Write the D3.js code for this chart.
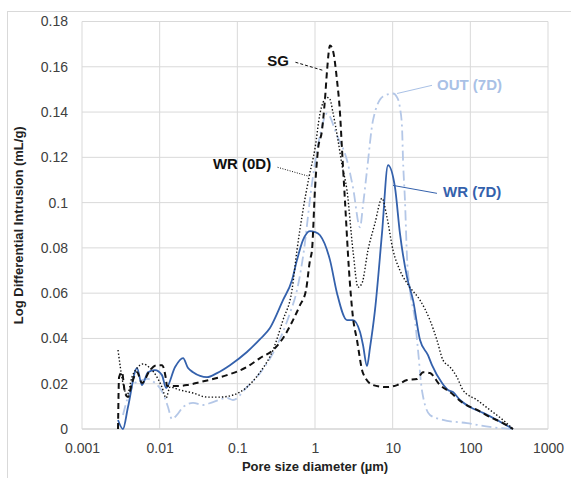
<!DOCTYPE html>
<html>
<head>
<meta charset="utf-8">
<script src="https://cdnjs.cloudflare.com/ajax/libs/d3/7.8.5/d3.min.js"></script>
<style>
  body { margin: 0; background: #fff; }
  text { font-family: "Liberation Sans", Arial, sans-serif; }
</style>
</head>
<body>
<div id="chart"></div>
<script>
// [pore diameter (um), log differential intrusion (mL/g)]
const wr7dData = [
  [0.00291, 0.0040], [0.00337, 0.0], [0.00391, 0.0097], [0.00511, 0.0269], [0.00592, 0.0194],
  [0.00708, 0.0251], [0.00871, 0.0260], [0.0107, 0.0238], [0.0121, 0.0181], [0.0158, 0.0274],
  [0.0200, 0.0313], [0.0232, 0.0269], [0.0269, 0.0251], [0.0407, 0.0229], [0.0547, 0.0247],
  [0.0804, 0.0282], [0.133, 0.0340], [0.196, 0.0397], [0.263, 0.0446], [0.387, 0.0569],
  [0.505, 0.0657], [0.586, 0.0746], [0.700, 0.0834], [0.862, 0.0874], [1.00, 0.0870],
  [1.16, 0.0856], [1.56, 0.0746], [1.92, 0.0600], [2.58, 0.0481], [3.08, 0.0481],
  [3.80, 0.0428], [4.15, 0.0371], [4.67, 0.0278], [5.11, 0.0360], [5.92, 0.0525],
  [7.29, 0.0865], [8.71, 0.1165], [10.7, 0.1068], [12.4, 0.0865], [15.3, 0.0671],
  [18.3, 0.0569], [22.5, 0.0393], [28.5, 0.0326], [32.1, 0.0282], [43.2, 0.0203],
  [51.6, 0.0172], [59.8, 0.0163], [73.6, 0.0128], [98.9, 0.0097], [146, 0.0071],
  [220, 0.0040], [354, 0.0]
];

const out7dData = [
  [0.00337, 0.0062], [0.00380, 0.0128], [0.00481, 0.0203], [0.00592, 0.0216], [0.00708, 0.0221],
  [0.00871, 0.0203], [0.0110, 0.0159], [0.0128, 0.0097], [0.0144, 0.0044], [0.0167, 0.0062],
  [0.0200, 0.0097], [0.0269, 0.0115], [0.0361, 0.0106], [0.0486, 0.0119], [0.0736, 0.0137],
  [0.0879, 0.0128], [0.133, 0.0185], [0.196, 0.0247], [0.288, 0.0335], [0.476, 0.0512],
  [0.586, 0.0613], [0.700, 0.0759], [0.915, 0.1085], [1.16, 0.1297], [1.43, 0.1394],
  [1.92, 0.1297], [2.58, 0.1187], [3.08, 0.1068], [3.80, 0.0891], [4.15, 0.0988],
  [4.67, 0.1142], [5.58, 0.1363], [7.51, 0.1469], [10.1, 0.1482], [11.4, 0.1465],
  [12.4, 0.1420], [13.2, 0.1332], [13.6, 0.1187], [14.4, 0.1010], [15.3, 0.0759],
  [16.7, 0.0613], [19.4, 0.0481], [21.2, 0.0349], [23.8, 0.0172], [30.2, 0.0062],
  [44.5, 0.0040], [90.5, 0.0026], [179, 0.0009], [354, 0.0]
];

const sgData = [
  [0.00291, 0.0], [0.00300, 0.0229], [0.00327, 0.0251], [0.00358, 0.0159], [0.00391, 0.0141],
  [0.00440, 0.0203], [0.00511, 0.0251], [0.00592, 0.0203], [0.00751, 0.0260], [0.00924, 0.0282],
  [0.0107, 0.0282], [0.0121, 0.0216], [0.0124, 0.0190], [0.0136, 0.0190], [0.0167, 0.0190],
  [0.0225, 0.0194], [0.0331, 0.0207], [0.0486, 0.0221], [0.0736, 0.0238], [0.133, 0.0274],
  [0.196, 0.0313], [0.288, 0.0349], [0.387, 0.0401], [0.521, 0.0481], [0.641, 0.0547],
  [0.766, 0.0613], [0.862, 0.0746], [0.915, 0.0790], [1.00, 0.1060], [1.09, 0.1231],
  [1.23, 0.1319], [1.35, 0.1465], [1.43, 0.1584], [1.56, 0.1694], [1.70, 0.1672],
  [1.92, 0.1540], [2.10, 0.1394], [2.23, 0.1231], [2.43, 0.1010], [2.74, 0.0701],
  [3.08, 0.0494], [3.47, 0.0393], [4.15, 0.0247], [5.58, 0.0194], [8.45, 0.0185],
  [11.4, 0.0194], [15.3, 0.0216], [20.6, 0.0221], [24.6, 0.0251], [30.2, 0.0247],
  [40.7, 0.0194], [54.7, 0.0163], [80.4, 0.0115], [122, 0.0084], [179, 0.0053],
  [263, 0.0026], [354, 0.0]
];

const wr0dData = [
  [0.00291, 0.0349], [0.00337, 0.0203], [0.00380, 0.0150], [0.00440, 0.0229], [0.00526, 0.0274],
  [0.00610, 0.0287], [0.00751, 0.0269], [0.00924, 0.0229], [0.0107, 0.0185], [0.0121, 0.0137],
  [0.0136, 0.0185], [0.0183, 0.0172], [0.0269, 0.0159], [0.0407, 0.0141], [0.0598, 0.0141],
  [0.0879, 0.0150], [0.133, 0.0185], [0.196, 0.0251], [0.288, 0.0349], [0.387, 0.0481],
  [0.505, 0.0613], [0.586, 0.0790], [0.700, 0.0966], [0.837, 0.1112], [1.00, 0.1240],
  [1.16, 0.1394], [1.27, 0.1443], [1.43, 0.1465], [1.56, 0.1456], [1.70, 0.1399],
  [1.98, 0.1275], [2.23, 0.1165], [2.58, 0.1054], [3.08, 0.0790], [3.58, 0.0626],
  [4.03, 0.0644], [4.81, 0.0790], [5.92, 0.0909], [7.29, 0.1019], [8.45, 0.0935],
  [10.1, 0.0790], [12.4, 0.0701], [16.7, 0.0626], [22.5, 0.0569], [30.2, 0.0481],
  [37.2, 0.0392], [44.5, 0.0304], [54.7, 0.0274], [67.3, 0.0229], [80.4, 0.0172],
  [122, 0.0128], [179, 0.0084], [263, 0.0040], [354, 0.0]
];

const xTicks = [0.001, 0.01, 0.1, 1, 10, 100, 1000];
const xTickLabels = ["0.001", "0.01", "0.1", "1", "10", "100", "1000"];
const yTicks = [0, 0.02, 0.04, 0.06, 0.08, 0.1, 0.12, 0.14, 0.16, 0.18];
const yTickLabels = ["0", "0.02", "0.04", "0.06", "0.08", "0.1", "0.12", "0.14", "0.16", "0.18"];

// label text, label anchor [d, v], leader start [d, v], leader end [d, v]
const labelNames = ["SG", "WR (0D)", "OUT (7D)", "WR (7D)"];
const labelAnchors = [[0.334, 0.162], [0.115, 0.1165], [37.2, 0.1513], [44.5, 0.1041]];
const leaderStarts = [[0.56, 0.162], [0.33, 0.1156], [32.1, 0.1518], [37.2, 0.1041]];
const leaderEnds = [[1.27, 0.1584], [0.837, 0.1116], [11.4, 0.1482], [10.1, 0.1076]];

class ChartDisplay {
  constructor() {
    this.W = 571;
    this.H = 478;
    const margin = {top: 21.5, right: 23, bottom: 49, left: 82};
    this.margin = margin;
    this.width = this.W - margin.left - margin.right;
    this.height = this.H - margin.top - margin.bottom;

    this.root = d3.select("#chart")
      .append("svg")
      .attr("width", this.W)
      .attr("height", this.H);

    // chart border (only the top and left edges fall inside the picture)
    this.root.append("rect")
      .attr("x", 7.5).attr("y", 11.5)
      .attr("width", 600).attr("height", 500)
      .attr("fill", "none")
      .attr("stroke", "#d9d9d9");

    this.svg = this.root.append("g")
      .attr("transform", `translate(${margin.left},${margin.top})`);
  }

  display() {
    const x = d3.scaleLog().domain([0.001, 1000]).range([0, this.width]);
    const y = d3.scaleLinear().domain([0, 0.18]).range([this.height, 0]);

    // gridlines
    this.svg.append("g")
      .selectAll("line")
      .data(yTicks)
      .join("line")
      .attr("x1", 0).attr("x2", this.width)
      .attr("y1", d => y(d)).attr("y2", d => y(d))
      .attr("stroke", d => d === 0 ? "#bfbfbf" : "#d9d9d9")
      .attr("stroke-width", 1);

    this.svg.append("g")
      .selectAll("line")
      .data(xTicks)
      .join("line")
      .attr("x1", d => x(d)).attr("x2", d => x(d))
      .attr("y1", 0).attr("y2", this.height)
      .attr("stroke", "#d9d9d9")
      .attr("stroke-width", 1);

    // axes (labels only)
    const xAxis = d3.axisBottom(x)
      .tickValues(xTicks)
      .tickFormat((d, i) => xTickLabels[i])
      .tickSize(0)
      .tickPadding(14);
    const gx = this.svg.append("g")
      .attr("transform", `translate(0,${this.height})`)
      .call(xAxis);
    gx.select(".domain").remove();
    gx.selectAll("text")
      .attr("font-size", 14)
      .attr("fill", "#404040")
      .style("font-family", '"Liberation Sans", Arial, sans-serif');

    const yAxis = d3.axisLeft(y)
      .tickValues(yTicks)
      .tickFormat((d, i) => yTickLabels[i])
      .tickSize(0)
      .tickPadding(14);
    const gy = this.svg.append("g").call(yAxis);
    gy.select(".domain").remove();
    gy.selectAll("text")
      .attr("font-size", 14)
      .attr("fill", "#404040")
      .style("font-family", '"Liberation Sans", Arial, sans-serif');

    // axis titles
    this.svg.append("text")
      .attr("x", this.width / 2)
      .attr("y", this.height + 42)
      .attr("text-anchor", "middle")
      .attr("font-size", 13)
      .attr("font-weight", "bold")
      .attr("fill", "#222")
      .text("Pore size diameter (µm)");

    this.svg.append("text")
      .attr("transform", `translate(${20 - this.margin.left},${this.height / 2}) rotate(-90)`)
      .attr("text-anchor", "middle")
      .attr("dominant-baseline", "middle")
      .attr("font-size", 13)
      .attr("font-weight", "bold")
      .attr("fill", "#222")
      .text("Log Differential Intrusion (mL/g)");

    const line = d3.line()
      .x(d => x(d[0]))
      .y(d => y(d[1]))
      .curve(d3.curveMonotoneX);

    // OUT (7D)
    this.svg.append("path")
      .datum(out7dData)
      .attr("fill", "none")
      .attr("stroke", "#b4c7e7")
      .attr("stroke-width", 1.8)
      .attr("stroke-dasharray", "10,4,2,4")
      .attr("d", line);

    // WR (7D)
    this.svg.append("path")
      .datum(wr7dData)
      .attr("fill", "none")
      .attr("stroke", "#3461ac")
      .attr("stroke-width", 1.8)
      .attr("d", line);

    // WR (0D)
    this.svg.append("path")
      .datum(wr0dData)
      .attr("fill", "none")
      .attr("stroke", "#111")
      .attr("stroke-width", 1.4)
      .attr("stroke-dasharray", "1.4,2")
      .attr("d", line);

    // SG
    this.svg.append("path")
      .datum(sgData)
      .attr("fill", "none")
      .attr("stroke", "#111")
      .attr("stroke-width", 2)
      .attr("stroke-dasharray", "6,4")
      .attr("d", line);

    // series labels with leader lines
    const labelColors = ["#111", "#111", "#a9c1e6", "#3461ac"];
    const leaderDash = ["3,2", "1,1.5", null, null];
    const anchors = ["middle", "middle", "start", "start"];

    labelNames.forEach((name, i) => {
      this.svg.append("line")
        .attr("x1", x(leaderStarts[i][0])).attr("y1", y(leaderStarts[i][1]))
        .attr("x2", x(leaderEnds[i][0])).attr("y2", y(leaderEnds[i][1]))
        .attr("stroke", labelColors[i])
        .attr("stroke-width", 1)
        .attr("stroke-dasharray", leaderDash[i]);

      this.svg.append("text")
        .attr("x", x(labelAnchors[i][0]))
        .attr("y", y(labelAnchors[i][1]))
        .attr("text-anchor", anchors[i])
        .attr("dominant-baseline", "middle")
        .attr("font-size", 15)
        .attr("font-weight", "bold")
        .attr("fill", labelColors[i])
        .text(name);
    });
  }
}

document.addEventListener('DOMContentLoaded', () => {
  const cd = new ChartDisplay();
  cd.display();
});
</script>
</body>
</html>
